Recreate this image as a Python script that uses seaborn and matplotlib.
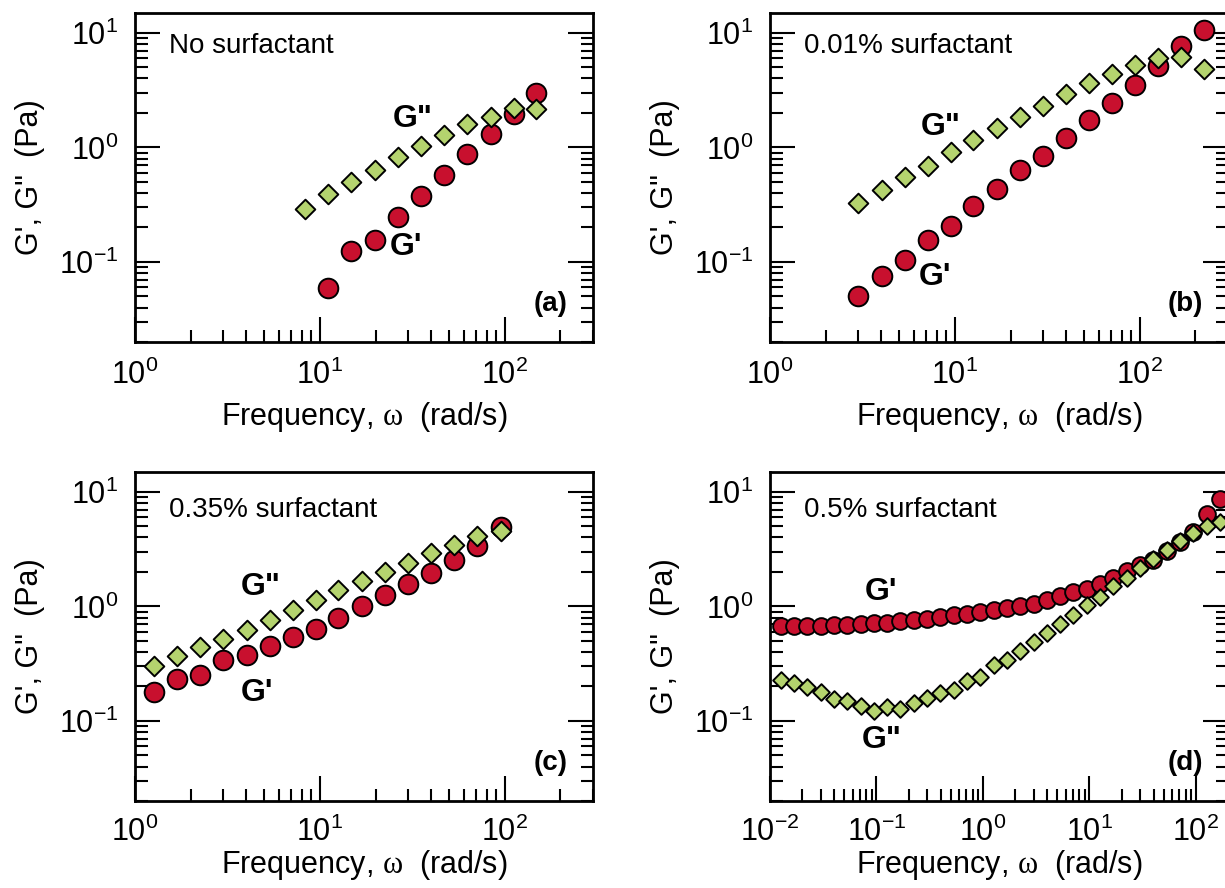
import matplotlib
matplotlib.use("Agg")
import matplotlib.pyplot as plt
import numpy as np
import pandas as pd
import seaborn as sns
from matplotlib.ticker import LogLocator, NullFormatter

sns.set_style("ticks")
plt.rcParams['font.family'] = ['Liberation Sans', 'DejaVu Sans']
plt.rcParams.update({'mathtext.fontset': 'custom', 'mathtext.rm': 'Liberation Serif',
                     'mathtext.it': 'Liberation Serif:italic', 'axes.unicode_minus': False,
                     'axes.linewidth': 2.0, 'axes.edgecolor': 'black',
                     'text.color': 'black', 'axes.labelcolor': 'black',
                     'xtick.color': 'black', 'ytick.color': 'black'})

RED = '#c8102e'
GREEN = '#b4d36e'

# (a) no surfactant
freq_a_g2 = [8.26, 11.1, 14.8, 19.9, 26.5, 35.3, 46.7, 62.1, 83.9, 111.7, 148]
g2_a = [0.291, 0.393, 0.496, 0.64, 0.819, 1.02, 1.29, 1.60, 1.85, 2.20, 2.15]
freq_a_g1 = [11.1, 14.8, 19.9, 26.5, 35.3, 46.7, 62.1, 83.9, 111.7, 148]
g1_a = [0.0598, 0.125, 0.154, 0.246, 0.380, 0.574, 0.875, 1.32, 1.95, 3.01]

# (b) 0.01% surfactant
freq_b = [3.01, 4.01, 5.34, 7.11, 9.49, 12.6, 16.9, 22.5, 29.9, 39.9, 53.2, 70.8, 94.4, 126, 168, 223]
g2_b = [0.328, 0.426, 0.556, 0.684, 0.905, 1.17, 1.49, 1.86, 2.30, 2.91, 3.63, 4.34, 5.20, 6.06, 6.14, 4.86]
g1_b = [0.0503, 0.0756, 0.103, 0.156, 0.206, 0.305, 0.434, 0.635, 0.847, 1.22, 1.73, 2.46, 3.51, 5.13, 7.66, 10.5]

# (c) 0.35% surfactant
freq_c = [1.26, 1.69, 2.25, 3.0, 4.01, 5.38, 7.15, 9.51, 12.6, 16.8, 22.4, 29.8, 40.0, 53.1, 71.0, 95.3]
g2_c = [0.299, 0.366, 0.441, 0.522, 0.625, 0.755, 0.935, 1.13, 1.38, 1.65, 2.0, 2.41, 2.92, 3.46, 4.09, 4.52]
g1_c = [0.179, 0.233, 0.250, 0.342, 0.373, 0.448, 0.540, 0.638, 0.791, 1.01, 1.25, 1.56, 1.95, 2.52, 3.34, 4.9]

# (d) 0.5% surfactant
freq_d = [0.0126, 0.0168, 0.0224, 0.0299, 0.0398, 0.0531, 0.0708, 0.0944, 0.126, 0.168,
          0.224, 0.299, 0.398, 0.531, 0.708, 0.944, 1.26, 1.68, 2.24, 2.99,
          3.98, 5.31, 7.08, 9.44, 12.6, 16.8, 22.4, 29.9, 39.8, 53.1,
          70.8, 94.4, 126, 168]
g1_d = [0.669, 0.674, 0.674, 0.678, 0.683, 0.692, 0.701, 0.716, 0.720, 0.740,
        0.765, 0.775, 0.807, 0.835, 0.863, 0.886, 0.923, 0.967, 1.0, 1.055,
        1.128, 1.222, 1.333, 1.426, 1.576, 1.778, 2.02, 2.28, 2.55, 3.02,
        3.64, 4.45, 6.43, 8.68]
g2_d = [0.230, 0.216, 0.198, 0.179, 0.157, 0.150, 0.134, 0.122, 0.1325, 0.128,
        0.1436, 0.160, 0.1756, 0.185, 0.223, 0.242, 0.310, 0.338, 0.408, 0.489,
        0.585, 0.706, 0.835, 1.02, 1.206, 1.494, 1.778, 2.17, 2.60, 3.12,
        3.76, 4.36, 5.08, 5.44]

panels = [
    dict(pos=[135, 12.7], title='No surfactant', tag='(a)', xlim=(1, 300),
         g1=(freq_a_g1, g1_a), g2=(freq_a_g2, g2_a),
         lab1=(29.4, 0.135), lab2=(31.6, 1.76), big=True),
    dict(pos=[770, 12.7], title='0.01% surfactant', tag='(b)', xlim=(1, 300),
         g1=(freq_b, g1_b), g2=(freq_b, g2_b),
         lab1=(7.83, 0.074), lab2=(8.34, 1.51), big=True),
    dict(pos=[135, 471.7], title='0.35% surfactant', tag='(c)', xlim=(1, 300),
         g1=(freq_c, g1_c), g2=(freq_c, g2_c),
         lab1=(4.55, 0.175), lab2=(4.78, 1.47), big=True),
    dict(pos=[770, 471.7], title='0.5% surfactant', tag='(d)', xlim=(0.01, 200),
         g1=(freq_d, g1_d), g2=(freq_d, g2_d),
         lab1=(0.111, 1.33), lab2=(0.111, 0.068), big=False),
]

W, H = 1225, 888
fig = plt.figure(figsize=(W / 100, H / 100), dpi=100)
aw, ah = 458, 329.3

for p in panels:
    left, top = p['pos']
    upper = top < 100
    ax = fig.add_axes([left / W, 1 - (top + ah) / H, aw / W, ah / H])
    ax.set_xscale('log')
    ax.set_yscale('log')

    s_circ, s_dia = (200, 100) if p['big'] else (145, 72)
    d1 = pd.DataFrame({'w': p['g1'][0], 'G': p['g1'][1]})
    d2 = pd.DataFrame({'w': p['g2'][0], 'G': p['g2'][1]})
    sns.scatterplot(data=d1, x='w', y='G', ax=ax, marker='o', s=s_circ, color=RED,
                    edgecolor='black', linewidth=1.4, legend=False, zorder=3)
    sns.scatterplot(data=d2, x='w', y='G', ax=ax, marker='D', s=s_dia, color=GREEN,
                    edgecolor='black', linewidth=1.4, legend=False, zorder=4)

    ax.set_xlim(*p['xlim'])
    ax.set_ylim(0.02, 15)
    for axis in (ax.xaxis, ax.yaxis):
        axis.set_major_locator(LogLocator(base=10, numticks=10))
        axis.set_minor_locator(LogLocator(base=10, subs=np.arange(2, 10), numticks=20))
        axis.set_minor_formatter(NullFormatter())
    ax.tick_params(which='both', direction='in', left=True, right=True, bottom=True, top=False,
                   width=1.5, colors='black', labelsize=22)
    ax.tick_params(which='major', length=18)
    ax.tick_params(which='minor', length=9)
    ax.tick_params(axis='x', which='major', pad=13 if upper else 11)
    ax.tick_params(axis='y', which='major', pad=12)

    ax.set_xlabel(r'Frequency, $\mathrm{\omega}$  (rad/s)', fontsize=22,
                  labelpad=6 if upper else 0)
    ax.set_ylabel('G\', G"  (Pa)', fontsize=22, labelpad=10)

    ax.text(0.075, 0.9 if upper else 0.885, p['title'], transform=ax.transAxes,
            ha='left', va='center', fontsize=20)
    ax.text(0.945, 0.115, p['tag'], transform=ax.transAxes, ha='right', va='center',
            fontsize=20, fontweight='bold')
    ax.text(*p['lab1'], "G'", ha='center', va='center', fontsize=23, fontweight='bold')
    ax.text(*p['lab2'], 'G"', ha='center', va='center', fontsize=23, fontweight='bold')

fig.savefig('out.png', dpi=100)
